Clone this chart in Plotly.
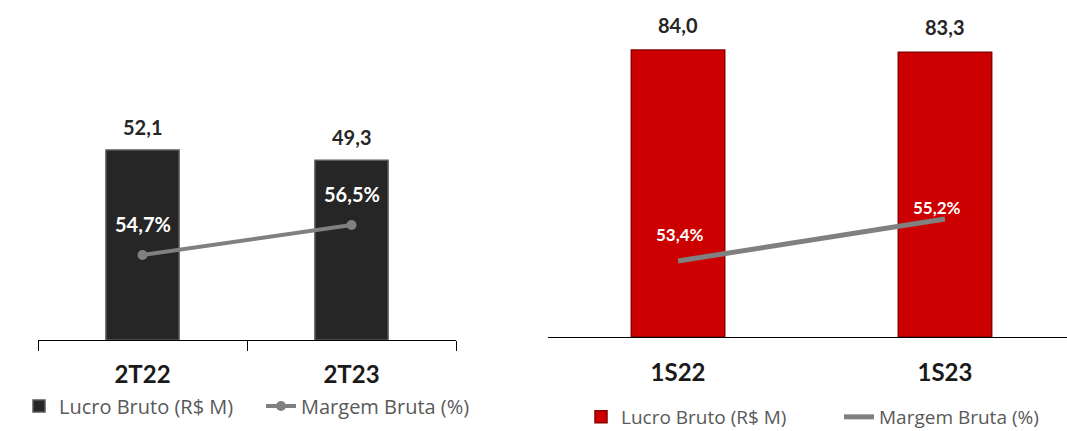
import plotly.graph_objects as go

# ---- data ----
cats_left = ["2T22", "2T23"]
lucro_left = [52.1, 49.3]
margem_left = [54.7, 56.5]

cats_right = ["1S22", "1S23"]
lucro_right = [84.0, 83.3]
margem_right = [53.4, 55.2]

legend_bar = "Lucro Bruto (R$ M)"
legend_line = "Margem Bruta (%)"


def fmt_num(v):
    return f"{v:.1f}".replace(".", ",")


def fmt_pct(v):
    return f"{v:.1f}".replace(".", ",") + "%"


W, H = 1067, 431


def PX(px):
    return px / W


def PY(py):
    return 1 - py / H


LABEL_FONT = "Lato"
LEGEND_FONT = "Open Sans"
TEXT_DARK = "#262626"
GRAY = "#808080"

fig = go.Figure()

# Left chart
fig.add_trace(go.Bar(
    x=cats_left, y=lucro_left, name=legend_bar, width=0.35,
    marker=dict(color="#262626", line=dict(color="#5a5a5a", width=1.5)),
    xaxis="x", yaxis="y", legend="legend", hoverinfo="skip",
))
fig.add_trace(go.Scatter(
    x=cats_left, y=margem_left, name=legend_line, mode="lines+markers",
    line=dict(color=GRAY, width=4), marker=dict(color=GRAY, size=10),
    xaxis="x", yaxis="y2", legend="legend", hoverinfo="skip",
))

# Right chart
fig.add_trace(go.Bar(
    x=cats_right, y=lucro_right, name=legend_bar, width=0.35,
    marker=dict(color="#cc0000", line=dict(color="#8b0000", width=1.5)),
    xaxis="x2", yaxis="y3", legend="legend2", hoverinfo="skip",
))
fig.add_trace(go.Scatter(
    x=cats_right, y=margem_right, name=legend_line, mode="lines",
    line=dict(color=GRAY, width=5),
    xaxis="x2", yaxis="y4", legend="legend2", hoverinfo="skip",
))

annotations = []
for c, v in zip(cats_left, lucro_left):
    annotations.append(dict(x=c, y=v, xref="x", yref="y", text=fmt_num(v), showarrow=False,
                            yshift=23, font=dict(family=LABEL_FONT, size=20, color=TEXT_DARK, weight="bold")))
for c, v in zip(cats_left, margem_left):
    annotations.append(dict(x=c, y=v, xref="x", yref="y2", text=fmt_pct(v), showarrow=False,
                            yshift=31, font=dict(family=LABEL_FONT, size=20, color="white", weight="bold")))
for c, v in zip(cats_right, lucro_right):
    annotations.append(dict(x=c, y=v, xref="x2", yref="y3", text=fmt_num(v), showarrow=False,
                            yshift=25, font=dict(family=LABEL_FONT, size=20, color=TEXT_DARK, weight="bold")))
pct_shifts = [(2, 26), (-8, 11)]
for (c, v), (xs, ys) in zip(zip(cats_right, margem_right), pct_shifts):
    annotations.append(dict(x=c, y=v, xref="x2", yref="y4", text=fmt_pct(v), showarrow=False,
                            xshift=xs, yshift=ys,
                            font=dict(family=LABEL_FONT, size=17, color="white", weight="bold")))

tick_font = dict(family=LABEL_FONT, size=24, color="#1a1a1a", weight="bold")

fig.update_layout(
    width=W, height=H,
    margin=dict(l=0, r=0, t=0, b=0, autoexpand=False),
    paper_bgcolor="white", plot_bgcolor="rgba(0,0,0,0)",
    xaxis=dict(domain=[PX(38), PX(456)], anchor="y", type="category", range=[-0.5, 1.5],
               showline=True, linecolor="black", linewidth=1, ticks="outside", tickson="boundaries",
               ticklen=10, tickcolor="black", showgrid=False, zeroline=False,
               tickfont=tick_font, ticklabelstandoff=13, automargin=False),
    yaxis=dict(domain=[PY(340), PY(20)], range=[0, 320 / 3.647], visible=False),
    yaxis2=dict(overlaying="y", range=[49.6, 49.6 + 320 / 16.67], visible=False),
    xaxis2=dict(domain=[PX(548), 1], anchor="y3", type="category", range=[-0.487, 1.457],
                showline=True, linecolor="black", linewidth=1, ticks="", showgrid=False,
                zeroline=False, tickfont=tick_font, ticklabelstandoff=14, automargin=False),
    yaxis3=dict(domain=[PY(337), PY(10)], range=[0, 327 / 3.417], visible=False),
    yaxis4=dict(overlaying="y3", range=[50.14, 50.14 + 327 / 23.33], visible=False),
    legend=dict(orientation="h", x=PX(19), y=PY(406), xanchor="left", yanchor="middle",
                font=dict(family=LEGEND_FONT, size=20, color="#595959"),
                bgcolor="rgba(0,0,0,0)", traceorder="normal",
                entrywidth=197, entrywidthmode="pixels"),
    legend2=dict(orientation="h", x=PX(581), y=PY(417), xanchor="left", yanchor="middle",
                 font=dict(family=LEGEND_FONT, size=19, color="#595959"),
                 bgcolor="rgba(0,0,0,0)", traceorder="normal",
                 entrywidth=213, entrywidthmode="pixels"),
    annotations=annotations,
    showlegend=True,
)

fig.write_html("out.html", config={"displayModeBar": False},
               post_script="document.body.style.margin='0';")
